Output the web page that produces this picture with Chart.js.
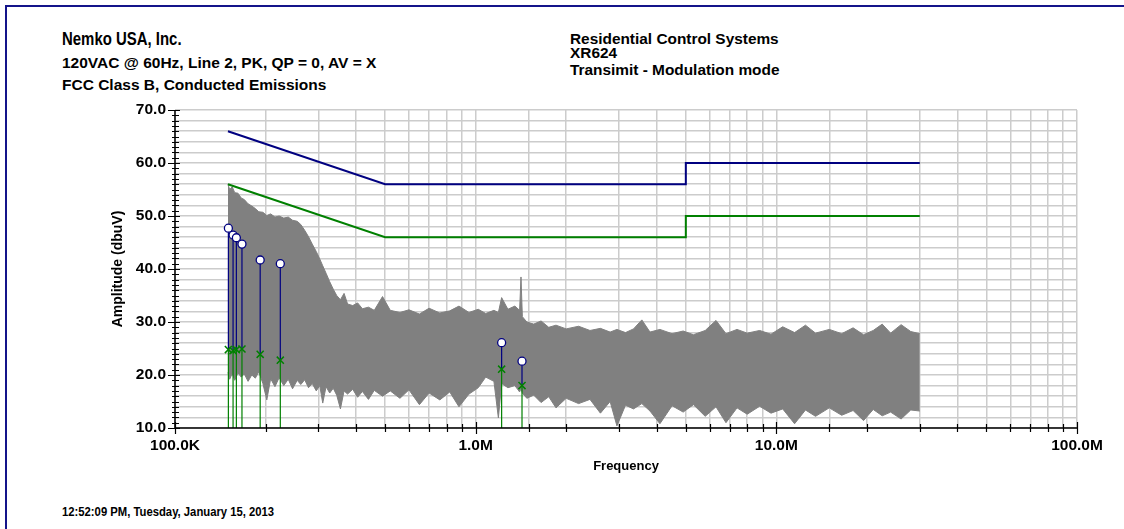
<!DOCTYPE html>
<html>
<head>
<meta charset="utf-8">
<script src="https://cdn.jsdelivr.net/npm/chart.js@4.4.1/dist/chart.umd.min.js"></script>
<style>
body { margin: 0; background: #fff; }
#wrap { position: relative; width: 1124px; height: 529px; overflow: hidden;
        font-family: "Liberation Sans", Arial, sans-serif; font-weight: bold; color: #000; }
#frame { position: absolute; left: 5px; top: 5px; width: 1130px; height: 540px;
         border-top: 2px solid #14148a; border-left: 2px solid #14148a; }
.t { position: absolute; white-space: nowrap; line-height: 1; transform-origin: 0 0; }
canvas { position: absolute; left: 0; top: 0; }
</style>
</head>
<body>
<div id="wrap">
  <div id="frame"></div>
  <div class="t" style="left:62px; top:30px; font-size:18px; transform:scaleX(0.83)">Nemko USA, Inc.</div>
  <div class="t" style="left:62px; top:55px; font-size:15.5px">120VAC @ 60Hz, Line 2, PK, QP = 0, AV = X</div>
  <div class="t" style="left:62px; top:77px; font-size:15.5px">FCC Class B, Conducted Emissions</div>
  <div class="t" style="left:570px; top:31px; font-size:15.4px">Residential Control Systems</div>
  <div class="t" style="left:570px; top:45px; font-size:15.4px">XR624</div>
  <div class="t" style="left:570px; top:62px; font-size:15.4px">Transimit - Modulation mode</div>
  <div class="t" style="left:62px; top:506px; font-size:12px; transform:scaleX(0.94)">12:52:09 PM, Tuesday, January 15, 2013</div>
  <canvas id="chart" width="1124" height="529" style="width:1124px;height:529px"></canvas>
</div>
<script>
const specFreq = [0.150, 0.152, 0.155, 0.158, 0.162, 0.166, 0.170, 0.175, 0.180, 0.185,
  0.190, 0.196, 0.202, 0.208, 0.215, 0.222, 0.230, 0.238, 0.246, 0.255,
  0.262, 0.270, 0.278, 0.286, 0.295, 0.303, 0.310, 0.318, 0.327, 0.336,
  0.345, 0.355, 0.365, 0.375, 0.390, 0.405, 0.420, 0.440, 0.460, 0.490,
  0.520, 0.560, 0.600, 0.650, 0.700, 0.760, 0.820, 0.880, 0.950, 1.020,
  1.080, 1.150, 1.190, 1.220, 1.280, 1.350, 1.400, 1.415, 1.430, 1.480,
  1.560, 1.650, 1.750, 1.850, 2.000, 2.200, 2.400, 2.600, 2.800, 2.950,
  3.150, 3.350, 3.570, 3.800, 4.100, 4.500, 4.900, 5.300, 5.800, 6.300,
  6.800, 7.400, 8.000, 8.800, 9.600, 10.50, 11.50, 12.50, 13.50, 15.00,
  16.50, 18.00, 19.50, 21.00, 22.50, 24.00, 26.00, 28.00, 30.00];
const specHigh = [56.0, 55.0, 55.5, 54.4, 54.3, 53.4, 53.1, 52.3, 51.9, 51.4,
  50.8, 50.7, 50.1, 50.4, 49.8, 50.0, 49.6, 49.8, 49.2, 49.0,
  48.4, 47.3, 46.1, 44.7, 43.3, 41.9, 40.6, 39.2, 37.6, 36.2,
  35.0, 34.2, 35.4, 33.4, 33.1, 33.6, 32.5, 32.8, 32.2, 34.8,
  32.2, 31.8, 32.3, 31.5, 32.6, 31.7, 32.1, 33.0, 31.8, 32.4,
  31.6, 32.2, 31.8, 34.6, 32.4, 33.0, 32.2, 38.5, 31.0, 30.0,
  29.6, 30.2, 29.0, 29.4, 28.7, 29.2, 28.4, 28.8, 28.1, 28.6,
  28.0, 28.7, 30.4, 28.1, 28.6, 27.8, 28.3, 27.6, 28.4, 30.3,
  27.8, 28.6, 27.9, 28.4, 27.7, 29.1, 28.0, 29.4, 27.9, 28.6,
  27.8, 28.9, 27.6, 28.4, 29.6, 27.9, 29.5, 28.2, 27.8];
const specLow = [20.5, 19.2, 20.3, 19.0, 20.4, 19.6, 20.2, 18.8, 20.0, 19.4,
  20.6, 18.4, 15.3, 19.3, 17.8, 19.5, 18.0, 19.2, 17.4, 19.0,
  18.2, 19.1, 17.6, 18.4, 17.0, 18.0, 14.7, 17.8, 16.6, 17.5,
  16.2, 13.6, 17.0, 16.4, 17.3, 15.8, 16.9, 15.4, 17.1, 16.0,
  17.0, 15.6, 17.2, 14.4, 16.6, 15.3, 16.8, 14.0, 16.4, 17.6,
  19.6, 18.8, 11.9, 18.4, 17.6, 18.0, 16.8, 17.4, 16.6, 15.6,
  16.2, 14.8, 15.9, 13.8, 15.6, 14.6, 15.4, 12.8, 15.0, 10.4,
  14.3, 13.6, 14.6, 13.2, 10.8, 14.2, 13.0, 14.4, 12.2, 14.0,
  11.0, 13.8, 12.6, 14.1, 12.8, 13.6, 10.8, 13.4, 12.2, 13.8,
  12.4, 13.3, 11.4, 13.5, 12.3, 13.0, 11.7, 13.4, 13.2];

// FCC class B limits
const limitFreq = [0.15, 0.5, 5, 5, 30];
const qpLimit = [66, 56, 56, 60, 60];
const avLimit = [56, 46, 46, 50, 50];

// marked peaks
const markFreq = [0.1505, 0.156, 0.160, 0.167, 0.192, 0.224, 1.22, 1.426];
const markPeak = [47.7, 46.4, 45.9, 44.7, 41.7, 41.0, 26.1, 22.6];
const markAvg = [24.8, 24.6, 24.8, 24.9, 23.9, 22.8, 21.1, 18.0];

// axis labels
const xLabelValues = [0.1, 1, 10, 100];
const xLabelText = ['100.0K', '1.0M', '10.0M', '100.0M'];
const yMin = 10, yMax = 70;

const NAVY = '#000080', GREEN = '#008000', GRAY = '#808080', GRID = '#cccccc';

const pts = (xs, ys) => xs.map((x, i) => ({ x: x, y: ys[i] }));

const navyStem = [], greenStem = [];
markFreq.forEach((f, i) => {
    navyStem.push({ x: f, y: markAvg[i] }, { x: f, y: markPeak[i] }, { x: f, y: null });
    greenStem.push({ x: f, y: yMin }, { x: f, y: markAvg[i] }, { x: f, y: null });
});

// tick marks crossing the axes
const axisTicks = {
    id: 'axisTicks',
    afterDatasetsDraw(chart) {
        const { ctx, chartArea: a, scales: { x, y } } = chart;
        ctx.save();
        ctx.strokeStyle = '#000';
        ctx.lineWidth = 1.2;
        ctx.beginPath();
        y.ticks.forEach(t => {
            const py = Math.round(y.getPixelForValue(t.value)) + 0.5;
            const major = t.value % 10 === 0;
            ctx.moveTo(a.left - (major ? 7 : 3), py);
            ctx.lineTo(a.left + (major ? 5 : 4), py);
        });
        x.ticks.forEach(t => {
            const px = Math.round(x.getPixelForValue(t.value)) + 0.5;
            const l = Math.log10(t.value);
            const major = Math.abs(l - Math.round(l)) < 1e-6;
            ctx.moveTo(px, a.bottom - (major ? 6 : 4));
            ctx.lineTo(px, a.bottom + (major ? 6 : 4));
        });
        ctx.stroke();
        ctx.lineWidth = 1.5;
        ctx.beginPath();
        ctx.moveTo(a.left, a.top);
        ctx.lineTo(a.left, a.bottom);
        ctx.lineTo(a.right, a.bottom);
        ctx.stroke();
        ctx.restore();
    }
};

const ctx = document.getElementById('chart').getContext('2d');
const myChart = new Chart(ctx, {
    type: 'line',
    data: {
        datasets: [
            {
                data: pts(markFreq, markPeak), showLine: false, order: 0,
                pointStyle: 'circle', pointRadius: 4, pointBackgroundColor: '#fff',
                pointBorderColor: NAVY, pointBorderWidth: 1.3
            },
            {
                data: pts(markFreq, markAvg), showLine: false, order: 0,
                pointStyle: 'crossRot', pointRadius: 5, pointBorderColor: GREEN,
                pointBorderWidth: 1.5
            },
            { data: navyStem, borderColor: NAVY, borderWidth: 1.2, pointRadius: 0, order: 1 },
            { data: greenStem, borderColor: GREEN, borderWidth: 1.2, pointRadius: 0, order: 1 },
            { data: pts(limitFreq, qpLimit), borderColor: NAVY, borderWidth: 2, pointRadius: 0, order: 2 },
            { data: pts(limitFreq, avLimit), borderColor: GREEN, borderWidth: 2, pointRadius: 0, order: 2 },
            {
                data: pts(specFreq, specHigh), borderColor: GRAY, backgroundColor: GRAY,
                borderWidth: 1, pointRadius: 0, fill: '+1', order: 3
            },
            {
                data: pts(specFreq, specLow), borderColor: GRAY, borderWidth: 1,
                pointRadius: 0, fill: false, order: 3
            }
        ]
    },
    options: {
        responsive: false,
        animation: false,
        layout: { padding: { top: 110, right: 47, left: 0, bottom: 0 } },
        plugins: { legend: { display: false }, tooltip: { enabled: false } },
        scales: {
            x: {
                type: 'logarithmic', min: 0.1, max: 100,
                afterFit: s => { s.height = 101; },
                grid: { color: GRID, lineWidth: 1.5, drawTicks: false },
                border: { display: false },
                ticks: {
                    autoSkip: false, maxRotation: 0, padding: 8, color: '#000',
                    font: { family: '"Liberation Sans", Arial', size: 15.5, weight: 'bold' },
                    callback: v => {
                        const i = xLabelValues.findIndex(d => Math.abs(d - v) < 1e-9);
                        return i >= 0 ? xLabelText[i] : '';
                    }
                },
                title: {
                    display: true, text: 'Frequency', color: '#000', padding: { bottom: 55 },
                    font: { family: '"Liberation Sans", Arial', size: 13, weight: 'bold' }
                }
            },
            y: {
                min: yMin, max: yMax,
                afterFit: s => { s.width = 175; },
                grid: {
                    drawTicks: false, lineWidth: 1.5,
                    color: c => (c.tick.value % 2 === 0 ? GRID : 'rgba(0,0,0,0)')
                },
                border: { display: false },
                ticks: {
                    stepSize: 1, autoSkip: false, padding: 9, color: '#000',
                    font: { family: '"Liberation Sans", Arial', size: 15.5, weight: 'bold' },
                    callback: v => (v % 10 === 0 ? v.toFixed(1) : '')
                },
                title: {
                    display: true, text: 'Amplitude (dbuV)', color: '#000', padding: { top: 110 },
                    font: { family: '"Liberation Sans", Arial', size: 14, weight: 'bold' }
                }
            }
        }
    },
    plugins: [axisTicks]
});
</script>
</body>
</html>
